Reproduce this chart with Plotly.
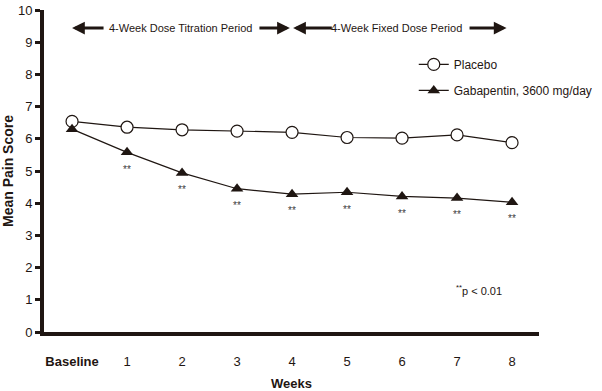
import plotly.graph_objects as go

weeks = [0, 1, 2, 3, 4, 5, 6, 7, 8]
tick_labels = ["<b>Baseline</b>", "1", "2", "3", "4", "5", "6", "7", "8"]
placebo = [6.54, 6.36, 6.28, 6.24, 6.20, 6.04, 6.02, 6.12, 5.88]
gabapentin = [6.30, 5.58, 4.94, 4.45, 4.28, 4.34, 4.21, 4.16, 4.03]
sig_weeks = [1, 2, 3, 4, 5, 6, 7, 8]

INK = "#1f1612"
FONT = "Liberation Sans, Arial, sans-serif"

fig = go.Figure()
fig.add_trace(go.Scatter(
    x=weeks, y=placebo, name="Placebo", mode="lines+markers",
    line=dict(color=INK, width=1.2),
    marker=dict(symbol="circle", size=12, color="white", line=dict(color=INK, width=1.2)),
    legendgroup="a",
))
fig.add_trace(go.Scatter(
    x=weeks, y=gabapentin, name="Gabapentin, 3600 mg/day", mode="lines+markers",
    line=dict(color=INK, width=1.2),
    marker=dict(symbol="triangle-up", size=11, color=INK),
    legendgroup="b",
))

ann = []
for w in sig_weeks:
    ann.append(dict(x=w, y=gabapentin[w] - 0.52, text="**", showarrow=False,
                    font=dict(size=10, color="#3a3a3a", family=FONT), xref="x", yref="y"))

arrow_y = 9.44
for head, tail in [(0, 0.6), (3.96, 3.38), (4.02, 4.75), (7.9, 7.2)]:
    ann.append(dict(x=head, y=arrow_y, ax=tail, ay=arrow_y, axref="x", ayref="y",
                    xref="x", yref="y", text="", showarrow=True, arrowhead=2,
                    arrowsize=0.85, arrowwidth=3, arrowcolor=INK))
ann.append(dict(x=1.98, y=arrow_y, text="4-Week Dose Titration Period", showarrow=False,
                font=dict(size=11, color=INK, family=FONT), xref="x", yref="y"))
ann.append(dict(x=5.89, y=arrow_y, text="4-Week Fixed Dose Period", showarrow=False,
                font=dict(size=11, color=INK, family=FONT), xref="x", yref="y"))
ann.append(dict(x=7.4, y=1.3, text="<sup>**</sup>p < 0.01", showarrow=False,
                font=dict(size=11, color=INK, family=FONT), xref="x", yref="y"))

fig.update_layout(
    width=602, height=391,
    margin=dict(l=44, r=63, t=10, b=59, autoexpand=False),
    paper_bgcolor="white", plot_bgcolor="white",
    font=dict(family=FONT, color=INK, size=12),
    annotations=ann,
    legend=dict(x=0.747, y=0.876, xanchor="left", yanchor="top",
                bgcolor="rgba(0,0,0,0)", font=dict(size=12, color=INK, family=FONT),
                itemwidth=30, tracegroupgap=7),
    showlegend=True,
)
fig.update_xaxes(
    range=[-0.51, 8.49], tickvals=weeks, ticktext=tick_labels, automargin=False,
    showline=True, linecolor=INK, linewidth=4, showgrid=False, zeroline=False,
    ticks="outside", ticklen=14, tickcolor="rgba(0,0,0,0)",
    tickfont=dict(size=13, color=INK, family=FONT),
    title=dict(text="<b>Weeks</b>", font=dict(size=13, color=INK, family=FONT), standoff=14),
)
fig.update_yaxes(
    range=[0, 10], dtick=1, tick0=0, automargin=False,
    showline=True, linecolor=INK, linewidth=4, showgrid=False, zeroline=False,
    ticks="outside", ticklen=5, tickwidth=3, tickcolor=INK,
    tickfont=dict(size=13, color=INK, family=FONT),
    title=dict(text="<b>Mean Pain Score</b>", font=dict(size=14, color=INK, family=FONT), standoff=5),
)

fig.write_html("out.html", config={"displayModeBar": False},
               post_script="document.body.style.margin='0';document.body.style.padding='0';")
